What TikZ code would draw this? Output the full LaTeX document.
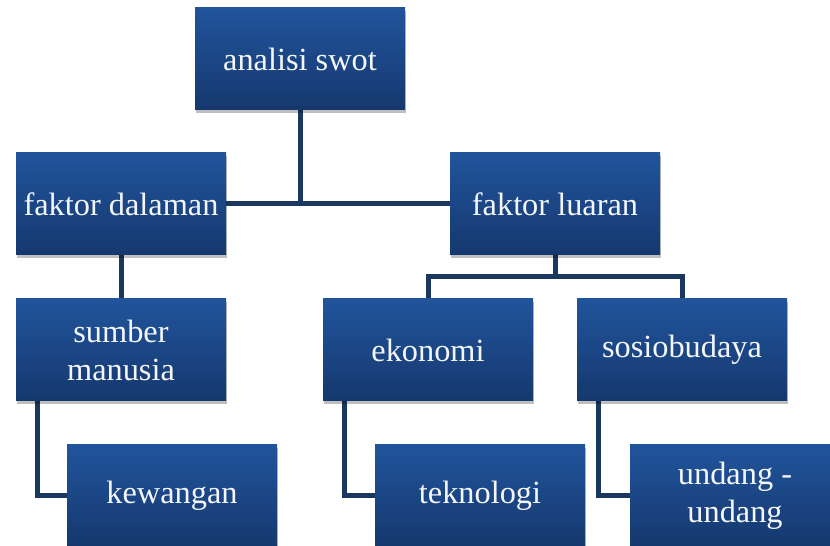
\documentclass[tikz,border=0pt]{standalone}
\usepackage{fontspec}
\setmainfont{Liberation Serif}
\usetikzlibrary{shadows,backgrounds}
\definecolor{boxtop}{RGB}{33,84,156}
\definecolor{boxbottom}{RGB}{21,56,110}
\definecolor{linkcolor}{RGB}{26,55,96}
\definecolor{textwhite}{RGB}{244,246,250}
\tikzset{
  box/.style={rectangle, minimum width=4.2cm, minimum height=2.04cm,
    top color=boxtop, bottom color=boxbottom, text=textwhite,
    align=center, font=\fontsize{18.4}{21.6}\selectfont,
    drop shadow={shadow xshift=0.02cm, shadow yshift=-0.07cm, fill=black, opacity=0.25}},
  link/.style={draw=linkcolor, line width=0.1cm}
}
\newcommand{\myelbow}[2]
{
\draw[link] ([xshift=0.44cm]#1.south west) |- (#2.west);
}

\begin{document}
\begin{tikzpicture}
  \useasboundingbox (0,0) rectangle (16.6,10.92);

  \node[box] (swot) at (6.0,9.74) {analisi swot};

  \node[box] (dalaman) at (2.42,6.84) {faktor dalaman};
  \node[box] (luaran) at (11.1,6.84) {faktor luaran};

  \node[box] (sumber) at (2.42,3.92) {sumber\\manusia};
  \node[box] (ekonomi) at (8.56,3.92) {ekonomi};
  \node[box] (sosio) at (13.64,3.92) {sosiobudaya};

  \node[box] (kewangan) at (3.44,1.0) {kewangan};
  \node[box] (teknologi) at (9.6,1.0) {teknologi};
  \node[box] (undang) at (14.7,1.0) {undang -\\undang};

  \coordinate (fork) at (11.1,5.38);

  \begin{scope}[on background layer]
    \draw[link] (dalaman.east) -- (luaran.west);
    \draw[link] (swot.south) -- (swot.south |- dalaman.east);
    \draw[link] (dalaman.south) -- (sumber.north);
    \draw[link] (luaran.south) -- (fork);
    \draw[link] (ekonomi.north) |- (fork) -| (sosio.north);
    \myelbow{sumber}{kewangan}
    \myelbow{ekonomi}{teknologi}
    \myelbow{sosio}{undang}
  \end{scope}
\end{tikzpicture}
\end{document}
